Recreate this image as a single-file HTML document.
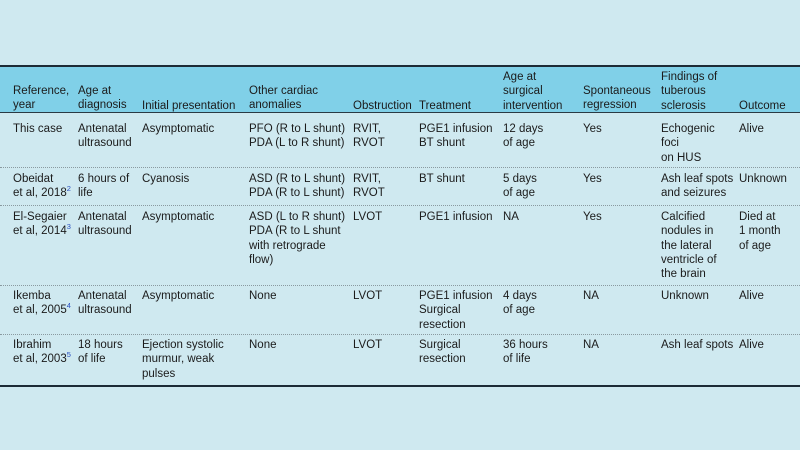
<!DOCTYPE html>
<html><head><meta charset="utf-8"><style>
body{margin:0;width:800px;height:450px;background:#cfe9f0;position:relative;overflow:hidden;font-family:"Liberation Sans","DejaVu Sans",sans-serif;font-size:11.5px;color:#1b1b1b}
.hd{position:absolute;left:0;top:67px;width:800px;height:45px;background:#80d0e8}
.ln{position:absolute;left:0;width:800px}
.c{position:absolute;line-height:14.3px;white-space:nowrap}
sup{color:#2a4fc0;font-size:7.5px;vertical-align:5px;line-height:0}
</style></head><body>
<div class="hd"></div>
<div class="ln" style="top:65px;height:2px;background:#1c2b36"></div>
<div class="ln" style="top:112px;height:1px;background:#2a3a44"></div>
<div class="ln" style="top:167px;border-top:1px dotted #8a9aa0"></div>
<div class="ln" style="top:205px;border-top:1px dotted #8a9aa0"></div>
<div class="ln" style="top:285px;border-top:1px dotted #8a9aa0"></div>
<div class="ln" style="top:334px;border-top:1px dotted #8a9aa0"></div>
<div class="ln" style="top:385px;height:2px;background:#1c2b36"></div>

<!-- header -->
<div class="c" style="left:13px;top:84px">Reference,<br>year</div>
<div class="c" style="left:78px;top:84px">Age at<br>diagnosis</div>
<div class="c" style="left:142px;top:99px">Initial presentation</div>
<div class="c" style="left:249px;top:84px">Other cardiac<br>anomalies</div>
<div class="c" style="left:353px;top:99px">Obstruction</div>
<div class="c" style="left:419px;top:99px">Treatment</div>
<div class="c" style="left:503px;top:70px">Age at<br>surgical<br>intervention</div>
<div class="c" style="left:583px;top:84px">Spontaneous<br>regression</div>
<div class="c" style="left:661px;top:70px">Findings of<br>tuberous<br>sclerosis</div>
<div class="c" style="left:739px;top:99px">Outcome</div>

<!-- row1 -->
<div class="c" style="left:13px;top:122px">This case</div>
<div class="c" style="left:78px;top:122px">Antenatal<br>ultrasound</div>
<div class="c" style="left:142px;top:122px">Asymptomatic</div>
<div class="c" style="left:249px;top:122px">PFO (R to L shunt)<br>PDA (L to R shunt)</div>
<div class="c" style="left:353px;top:122px">RVIT,<br>RVOT</div>
<div class="c" style="left:419px;top:122px">PGE1 infusion<br>BT shunt</div>
<div class="c" style="left:503px;top:122px">12 days<br>of age</div>
<div class="c" style="left:583px;top:122px">Yes</div>
<div class="c" style="left:661px;top:122px">Echogenic<br>foci<br>on HUS</div>
<div class="c" style="left:739px;top:122px">Alive</div>

<!-- row2 -->
<div class="c" style="left:13px;top:172px">Obeidat<br>et al, 2018<sup>2</sup></div>
<div class="c" style="left:78px;top:172px">6 hours of<br>life</div>
<div class="c" style="left:142px;top:172px">Cyanosis</div>
<div class="c" style="left:249px;top:172px">ASD (R to L shunt)<br>PDA (R to L shunt)</div>
<div class="c" style="left:353px;top:172px">RVIT,<br>RVOT</div>
<div class="c" style="left:419px;top:172px">BT shunt</div>
<div class="c" style="left:503px;top:172px">5 days<br>of age</div>
<div class="c" style="left:583px;top:172px">Yes</div>
<div class="c" style="left:661px;top:172px">Ash leaf spots<br>and seizures</div>
<div class="c" style="left:739px;top:172px">Unknown</div>

<!-- row3 -->
<div class="c" style="left:13px;top:210px">El-Segaier<br>et al, 2014<sup>3</sup></div>
<div class="c" style="left:78px;top:210px">Antenatal<br>ultrasound</div>
<div class="c" style="left:142px;top:210px">Asymptomatic</div>
<div class="c" style="left:249px;top:210px">ASD (L to R shunt)<br>PDA (R to L shunt<br>with retrograde<br>flow)</div>
<div class="c" style="left:353px;top:210px">LVOT</div>
<div class="c" style="left:419px;top:210px">PGE1 infusion</div>
<div class="c" style="left:503px;top:210px">NA</div>
<div class="c" style="left:583px;top:210px">Yes</div>
<div class="c" style="left:661px;top:210px">Calcified<br>nodules in<br>the lateral<br>ventricle of<br>the brain</div>
<div class="c" style="left:739px;top:210px">Died at<br>1 month<br>of age</div>

<!-- row4 -->
<div class="c" style="left:13px;top:289px">Ikemba<br>et al, 2005<sup>4</sup></div>
<div class="c" style="left:78px;top:289px">Antenatal<br>ultrasound</div>
<div class="c" style="left:142px;top:289px">Asymptomatic</div>
<div class="c" style="left:249px;top:289px">None</div>
<div class="c" style="left:353px;top:289px">LVOT</div>
<div class="c" style="left:419px;top:289px">PGE1 infusion<br>Surgical<br>resection</div>
<div class="c" style="left:503px;top:289px">4 days<br>of age</div>
<div class="c" style="left:583px;top:289px">NA</div>
<div class="c" style="left:661px;top:289px">Unknown</div>
<div class="c" style="left:739px;top:289px">Alive</div>

<!-- row5 -->
<div class="c" style="left:13px;top:338px">Ibrahim<br>et al, 2003<sup>5</sup></div>
<div class="c" style="left:78px;top:338px">18 hours<br>of life</div>
<div class="c" style="left:142px;top:338px">Ejection systolic<br>murmur, weak<br>pulses</div>
<div class="c" style="left:249px;top:338px">None</div>
<div class="c" style="left:353px;top:338px">LVOT</div>
<div class="c" style="left:419px;top:338px">Surgical<br>resection</div>
<div class="c" style="left:503px;top:338px">36 hours<br>of life</div>
<div class="c" style="left:583px;top:338px">NA</div>
<div class="c" style="left:661px;top:338px">Ash leaf spots</div>
<div class="c" style="left:739px;top:338px">Alive</div>
</body></html>
